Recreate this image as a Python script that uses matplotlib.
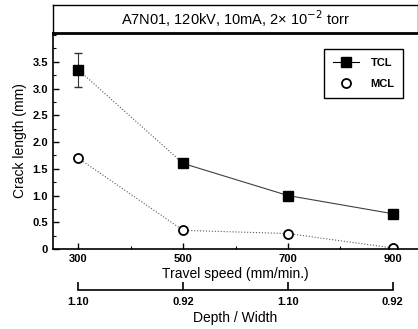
import matplotlib.pyplot as plt
from matplotlib.ticker import MultipleLocator

plt.rcParams['font.family'] = ['Liberation Sans', 'DejaVu Sans']

# data
speed = [300, 500, 700, 900]
tcl = [3.35, 1.60, 1.00, 0.66]
tcl_err_lo = [0.33, 0.0, 0.07, 0.0]
tcl_err_hi = [0.32, 0.0, 0.07, 0.0]
mcl = [1.70, 0.35, 0.29, 0.02]
depth_width = ["1.10", "0.92", "1.10", "0.92"]
title = "A7N01, 120kV, 10mA, 2\u00d7 10$^{-2}$ torr"

fig = plt.figure(figsize=(4.18, 3.29), dpi=100)

# main plot
ax = fig.add_axes([0.127, 0.243, 0.873, 0.657])
ax.plot(speed[:2], tcl[:2], ls=':', color='0.35', lw=0.8)
ax.plot(speed[1:], tcl[1:], ls='-', color='0.25', lw=0.8)
ax.errorbar(speed, tcl, yerr=[tcl_err_lo, tcl_err_hi], fmt='none',
            ecolor='0.2', elinewidth=0.8, capsize=3, ls=':')
ax.plot(speed, tcl, ls='none', marker='s', ms=6.5, color='black')
ax.plot(speed, mcl, ls=':', color='0.35', lw=0.8,
        marker='o', ms=6.5, mfc='white', mec='black', mew=1.3)

# legend handles
h1, = ax.plot([], [], ls='-', color='black', lw=0.8, marker='s', ms=6.5)
h2, = ax.plot([], [], ls='none', marker='o', ms=6.5, mfc='white',
              mec='black', mew=1.3)
leg = ax.legend([h1, h2], ['TCL', 'MCL'], loc='upper right',
                bbox_to_anchor=(0.975, 0.95), fancybox=False, framealpha=1,
                edgecolor='black', fontsize=8, handlelength=2.4,
                borderpad=0.8, labelspacing=1.0, handletextpad=1.0)
leg.get_frame().set_linewidth(1.0)
for t in leg.get_texts():
    t.set_fontweight('bold')

ax.set_xlim(252, 948)
ax.set_ylim(0, 4.04)
ax.set_xticks(speed)
ax.xaxis.set_minor_locator(MultipleLocator(100))
ax.set_yticks([0, 0.5, 1.0, 1.5, 2.0, 2.5, 3.0, 3.5])
ax.set_yticklabels(['0', '0.5', '1.0', '1.5', '2.0', '2.5', '3.0', '3.5'])
ax.yaxis.set_minor_locator(MultipleLocator(0.25))
ax.tick_params(direction='in', labelsize=8, width=1, length=4)
ax.tick_params(which='minor', direction='in', width=0.8, length=2)
for lbl in ax.get_xticklabels() + ax.get_yticklabels():
    lbl.set_fontweight('bold')
ax.spines['right'].set_visible(False)
ax.spines['top'].set_visible(False)
for s in ['left', 'bottom']:
    ax.spines[s].set_linewidth(1.2)
ax.set_xlabel('Travel speed (mm/min.)', fontsize=10, labelpad=2)
ax.set_ylabel('Crack length (mm)', fontsize=10)

# title box
tax = fig.add_axes([0.127, 0.9, 0.873, 0.085])
tax.set_xticks([])
tax.set_yticks([])
for s in tax.spines.values():
    s.set_linewidth(1.0)
tax.spines['bottom'].set_linewidth(2.0)
tax.text(0.5, 0.5, title, ha='center', va='center', fontsize=10.5,
         transform=tax.transAxes)

# secondary depth/width axis
dax = fig.add_axes([0.127, 0.1185, 0.873, 0.001])
dax.set_xlim(252, 948)
dax.set_ylim(0, 1)
dax.set_yticks([])
for s in ['left', 'right', 'top']:
    dax.spines[s].set_visible(False)
dax.spines['bottom'].set_bounds(300, 900)
dax.spines['bottom'].set_linewidth(1.2)
dax.set_xticks(speed)
dax.set_xticklabels(depth_width)
dax.tick_params(axis='x', direction='in', length=6, width=1.2, labelsize=8,
                pad=5)
for lbl in dax.get_xticklabels():
    lbl.set_fontweight('bold')
dax.set_xlabel('Depth / Width', fontsize=10, labelpad=3)

fig.savefig('out.png', dpi=100)
